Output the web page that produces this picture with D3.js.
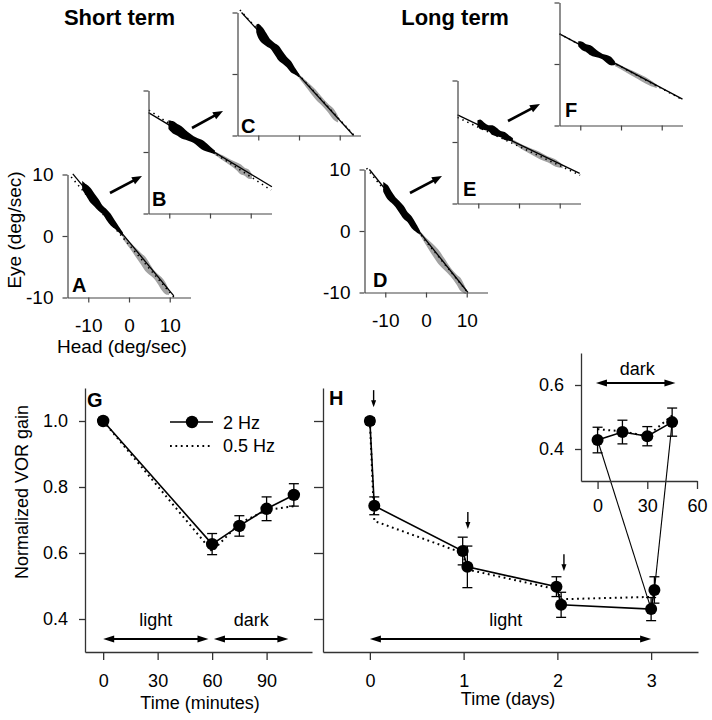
<!DOCTYPE html>
<html><head><meta charset="utf-8">
<script src="https://cdn.jsdelivr.net/npm/d3@7"></script>
<style>
body{margin:0;background:#fff}
text{font-family:"Liberation Sans",Arial,Helvetica,sans-serif;fill:#000}
</style>
</head><body>
<svg id="c" width="712" height="720" xmlns="http://www.w3.org/2000/svg"></svg>
<script>
// ================= DATA =================
// Scatter panels A-F: head velocity (deg/sec) vs eye velocity (deg/sec)
const headTicks = [-10, 0, 10];
const eyeTicks = [-10, 0, 10];
// 2 Hz fit lines [head, eye]
const fitA = [[-13.8, 10.1], [11.0, -9.74]];
const fitB = [[-15.1, 6.4], [15.2, -5.65]];
const fitC = [[-14.1, 10.0], [13.4, -10.0]];
const fitD = [[-13.9, 10.0], [10.3, -10.0]];
const fitE = [[-15.1, 4.4], [14.9, -5.1]];
const fitF = [[-15.1, 4.9], [15.1, -5.7]];
// 0.5 Hz fit lines (dotted)
const dotA = [[-14.2, 9.6], [11.2, -10.1]];
const dotB = [[-15.0, 6.8], [15.0, -6.2]];
const dotC = [[-14.5, 10.4], [13.8, -10.2]];
const dotD = [[-14.6, 10.2], [10.5, -10.2]];
const dotE = [[-15.1, 4.0], [15.0, -5.4]];
const dotF = [[-15.1, 4.9], [15.1, -5.8]];
// raw traces [head, eye, spread(deg/sec)] – black: contralateral half, gray: ipsilateral half
const blackA = [[-11.5,8.26,1.4],[-10.5,7.46,1.9],[-9.5,6.66,2.4],[-8.5,5.86,2.1],[-7.5,5.06,1.9],[-6.5,4.26,1.4],[-5.5,3.46,1.8],[-4.5,2.66,1.9],[-3.5,1.86,1.4],[-2.5,1.06,1.0],[-1.5,0.26,0.7]];
const grayA  = [[-1.5,-0.14,0.7],[0,-1.34,1.0],[1.5,-2.54,1.4],[3,-3.74,1.9],[4,-4.54,2.3],[5,-5.34,1.9],[6,-6.14,1.4],[7,-6.94,1.6],[8,-7.74,2.1],[9,-8.54,1.9],[9.8,-9.18,0.9]];
const blackB = [[-10.2,4.46,1.4],[-9,3.98,2.0],[-8,3.59,1.9],[-7,3.19,2.0],[-6,2.79,1.6],[-5,2.40,1.3],[-4,2.0,1.1],[-3,1.6,1.3],[-2,1.2,1.6],[-1,0.81,1.4],[0.5,0.21,0.8],[1.2,-0.07,0.6]];
const grayB  = [[1.2,-0.2,0.6],[3,-0.9,0.8],[5,-1.7,1.0],[6.5,-2.3,1.3],[7.5,-2.8,1.6],[8.5,-3.2,1.3],[9.5,-3.6,1.5],[10.3,-4.0,0.8]];
const blackC = [[-10.5,7.38,1.2],[-10,7.02,2.3],[-9,6.29,2.6],[-8,5.57,2.1],[-7,4.84,1.5],[-6,4.11,1.9],[-5,3.39,2.4],[-4,2.66,2.0],[-3,1.93,1.7],[-2,1.2,1.8],[-1,0.48,1.1],[0,-0.25,0.6]];
const grayC  = [[0,-0.35,0.6],[2,-1.8,1.1],[4,-3.26,1.6],[5.5,-4.35,1.4],[7,-5.44,1.4],[8.5,-6.53,1.8],[9.6,-7.33,1.1]];
const blackD = [[-10.5,7.18,1.6],[-9.5,6.36,2.3],[-8.5,5.53,1.9],[-7.5,4.7,1.6],[-6.5,3.88,1.9],[-5.5,3.05,2.1],[-4.5,2.23,1.6],[-3.5,1.4,1.9],[-2.5,0.58,1.4],[-1.5,-0.25,0.7]];
const grayD  = [[-1.5,-0.3,0.7],[0,-1.69,1.2],[1.5,-2.93,1.9],[3,-4.17,2.3],[4.5,-5.4,1.9],[6,-6.64,1.4],[7.5,-7.88,1.6],[8.5,-8.7,2.1],[9.8,-9.8,0.9]];
const blackE = [[-10.2,3.09,0.9],[-9.5,2.87,1.6],[-8.5,2.55,1.2],[-7.5,2.24,1.0],[-6.5,1.92,1.6],[-5.5,1.6,1.4],[-4.5,1.29,1.0],[-3.5,0.97,1.3],[-2.5,0.65,0.9],[-1.5,0.34,0.6]];
const grayE  = [[-1.5,0.09,0.6],[1,-0.9,0.8],[3,-1.54,1.0],[5,-2.17,1.2],[7,-2.81,1.0],[9,-3.44,1.2],[10.7,-3.98,0.6]];
const blackF = [[-10.5,3.29,0.8],[-9.5,2.93,1.4],[-8.5,2.58,1.3],[-7.5,2.23,1.6],[-6.5,1.88,1.4],[-5.5,1.53,1.0],[-4.5,1.18,0.9],[-3.5,0.83,1.3],[-2.5,0.48,1.4],[-1.5,0.13,0.6]];
const grayF  = [[-1.5,-0.02,0.6],[1,-0.9,0.7],[3,-1.6,0.9],[5,-2.3,1.0],[7,-3.01,1.0],[8.8,-3.64,0.6]];

// Panel G: short term (minutes)
const gTicksX = [0, 30, 60, 90];
const gainTicks = [0.4, 0.6, 0.8, 1.0];
const gTime   = [0, 60, 75, 90, 105];
const gGain2  = [1.0, 0.627, 0.682, 0.734, 0.776];
const gErr2   = [0.01, 0.032, 0.031, 0.036, 0.034];
const gGain05 = [1.0, 0.605, 0.69, 0.73, 0.742];
const gLight = [0, 58];
const gDark  = [61, 102];

// Panel H: long term (days)
const hTicksX = [0, 1, 2, 3];
const hTime   = [0, 0.047, 0.99, 1.04, 1.99, 2.04, 3.0, 3.035];
const hGain2  = [1.0, 0.743, 0.606, 0.558, 0.498, 0.443, 0.43, 0.488];
const hErr2   = [0.01, 0.027, 0.042, 0.063, 0.03, 0.038, 0.035, 0.04];
const hGain05 = [1.0, 0.697, 0.60, 0.55, 0.49, 0.46, 0.467, 0.49];
const hArrowTime = [0.04, 1.045, 2.07];
const hArrowGain = [1.042, 0.673, 0.545];
const hLight = [0, 3];

// Inset: dark period (minutes)
const iTicksX = [0, 30, 60];
const iTicksY = [0.4, 0.6];
const iTime   = [0, 15, 30, 45];
const iGain2  = [0.428, 0.453, 0.44, 0.484];
const iErr2   = [0.04, 0.037, 0.03, 0.044];
const iGain05 = [0.462, 0.455, 0.44, 0.505];
const iDark   = [-1, 47];
// inset points linked to H points (index in inset, index in H)
const links = [[0, 6], [3, 7]];

// ================= LAYOUT =================
const svg = d3.select("#c");
const AX = "#444";
const W = 123, Hh = 123;
const FF = '"Liberation Sans",Arial,Helvetica,sans-serif';
const plain = d => String(d);

function txt(g, x, y, s, size, opts = {}) {
  const t = g.append("text").attr("x", x).attr("y", y).text(s)
    .style("font-size", size + "px").style("font-family", FF)
    .attr("text-anchor", opts.anchor || "start");
  if (opts.bold) t.style("font-weight", "bold");
  if (opts.rotate) t.attr("transform", `rotate(${opts.rotate},${x},${y})`);
  return t;
}
function arrow(g, x1, y1, x2, y2, sw, hl, hw, both) {
  const a = Math.atan2(y2 - y1, x2 - x1);
  const c = Math.cos(a), s = Math.sin(a);
  const head = (tx, ty, cc, ss) => {
    const bx = tx - hl * cc, by = ty - hl * ss;
    const px = -ss * hw / 2, py = cc * hw / 2;
    g.append("path").attr("d", `M${tx},${ty}L${bx + px},${by + py}L${bx - px},${by - py}Z`).attr("fill", "#000");
  };
  const sx = both ? x1 + hl * 0.7 * c : x1, sy = both ? y1 + hl * 0.7 * s : y1;
  g.append("line").attr("x1", sx).attr("y1", sy)
    .attr("x2", x2 - hl * 0.7 * c).attr("y2", y2 - hl * 0.7 * s)
    .attr("stroke", "#000").attr("stroke-width", sw);
  head(x2, y2, c, s);
  if (both) head(x1, y1, -c, -s);
}

// scatter panels: [name, y-axis x, top y, fit, dot, black, gray, labels, letter dx, letter dy(from bottom)]
const panels = [
  ["A", 67.5, 174.5, fitA, dotA, blackA, grayA, true, 4.5, -5.5],
  ["B", 148.5, 90.5, fitB, dotB, blackB, grayB, false, 3.5, -8],
  ["C", 237.5, 12.5, fitC, dotC, blackC, grayC, false, 3.5, -2.5],
  ["D", 364.5, 169.5, fitD, dotD, blackD, grayD, true, 8.5, -5.5],
  ["E", 457.5, 80.5, fitE, dotE, blackE, grayE, false, 5.5, -8],
  ["F", 559.5, 2.5, fitF, dotF, blackF, grayF, false, 5.5, -8.5]
];

panels.forEach(([name, ox, oy, fit, dot, black, gray, labels, ldx, ldy]) => {
  const g = svg.append("g").attr("transform", `translate(${ox},${oy})`);
  const x = d3.scaleLinear().domain([-15.1, 15.1]).range([0, W]);
  const y = d3.scaleLinear().domain([-10, 10]).range([Hh, 0]);
  const area = d3.area().x(d => x(d[0])).y0(d => y(d[1] + d[2] / 2)).y1(d => y(d[1] - d[2] / 2))
    .curve(d3.curveCatmullRom);
  g.append("path").datum(gray).attr("d", area).attr("fill", "#a2a2a2");
  g.append("path").datum(black).attr("d", area).attr("fill", "#000");
  const ln = d3.line().x(d => x(d[0])).y(d => y(d[1]));
  g.append("path").datum(dot).attr("d", ln).attr("fill", "none").attr("stroke", "#000")
    .attr("stroke-width", 1.6).attr("stroke-dasharray", "1.4,4");
  g.append("path").datum(fit).attr("d", ln).attr("fill", "none").attr("stroke", "#000").attr("stroke-width", 1.3);

  const ya = d3.axisLeft(y).tickValues(eyeTicks).tickSize(5).tickSizeOuter(0).tickPadding(9).tickFormat(plain);
  const xa = d3.axisBottom(x).tickValues(headTicks).tickSize(5).tickSizeOuter(0).tickPadding(16).tickFormat(plain);
  if (!labels) { ya.tickFormat(""); xa.tickFormat(""); }
  const gy = g.append("g").call(ya);
  const gx = g.append("g").attr("transform", `translate(0,${Hh})`).call(xa);
  [gx, gy].forEach(a => {
    a.selectAll("path,line").attr("stroke", AX).attr("stroke-width", 1.2);
    a.selectAll("text").style("font-size", "19px").style("font-family", FF).attr("fill", "#000");
  });
  txt(g, ldx, Hh + ldy, name, 20, { bold: true });
});

// between-panel arrows (layout)
arrow(svg, 110, 193, 142, 176, 2.6, 10, 8);
arrow(svg, 192, 128, 223, 111, 2.6, 10, 8);
arrow(svg, 410, 193, 442, 176, 2.6, 10, 8);
arrow(svg, 508, 121, 540, 104, 2.6, 10, 8);

// titles & scatter axis labels
txt(svg, 119.5, 25, "Short term", 22, { bold: true, anchor: "middle" });
txt(svg, 455, 25, "Long term", 22, { bold: true, anchor: "middle" });
txt(svg, 20.5, 230, "Eye (deg/sec)", 19, { anchor: "middle", rotate: -90 });
txt(svg, 122, 353, "Head (deg/sec)", 19, { anchor: "middle" });

// ============ scales for G / H / inset ============
const yG = d3.scaleLinear().domain([0.3, 1.1]).range([652, 388]);
const xG = d3.scaleLinear().domain([-10, 115]).range([85, 312]);
const xH = d3.scaleLinear().domain([-0.5, 3.5]).range([323, 698]);
const xI = d3.scaleLinear().domain([-10, 60]).range([581, 697]);
const yI = d3.scaleLinear().domain([0.3, 0.7]).range([481, 353]);

function styleAxis(a, size) {
  a.selectAll("path,line").attr("stroke", "#333").attr("stroke-width", 1.3);
  a.selectAll("text").style("font-size", size + "px").style("font-family", FF).attr("fill", "#000");
}
function series(g, x, y, t, v2, e2, v05, r) {
  const ln = d3.line().x((d, i) => x(t[i])).y(d => y(d));
  g.append("path").datum(v05).attr("d", ln).attr("fill", "none").attr("stroke", "#000")
    .attr("stroke-width", 2).attr("stroke-dasharray", "1.8,3.6");
  g.append("path").datum(v2).attr("d", ln).attr("fill", "none").attr("stroke", "#000").attr("stroke-width", 1.6);
  const eb = g.append("g").attr("stroke", "#000").attr("stroke-width", 1.3);
  v2.forEach((v, i) => {
    const cx = x(t[i]);
    eb.append("line").attr("x1", cx).attr("x2", cx).attr("y1", y(v + e2[i])).attr("y2", y(v - e2[i]));
    [v + e2[i], v - e2[i]].forEach(w => eb.append("line").attr("x1", cx - 5).attr("x2", cx + 5).attr("y1", y(w)).attr("y2", y(w)));
  });
  g.selectAll(null).data(v2).enter().append("circle")
    .attr("cx", (d, i) => x(t[i])).attr("cy", d => y(d)).attr("r", r).attr("fill", "#000");
}

// ============ Panel G ============
const gG = svg.append("g");
styleAxis(gG.append("g").attr("transform", "translate(85,0)")
  .call(d3.axisLeft(yG).tickValues(gainTicks).tickFormat(d3.format(".1f")).tickSize(6).tickSizeOuter(0).tickPadding(11)), 18);
styleAxis(gG.append("g").attr("transform", "translate(0,652)")
  .call(d3.axisBottom(xG).tickValues(gTicksX).tickFormat(plain).tickSize(8).tickSizeOuter(0).tickPadding(14)), 18);
series(gG, xG, yG, gTime, gGain2, gErr2, gGain05, 6.2);
arrow(gG, xG(gLight[0]), 639, xG(gLight[1]), 639, 2, 11, 7, true);
arrow(gG, xG(gDark[0]), 639, xG(gDark[1]), 639, 2, 11, 7, true);
txt(gG, xG((gLight[0] + gLight[1]) / 2), 626, "light", 18, { anchor: "middle" });
txt(gG, xG((gDark[0] + gDark[1]) / 2), 626, "dark", 18, { anchor: "middle" });
txt(gG, 87, 407, "G", 20, { bold: true });
// legend
gG.append("line").attr("x1", 170).attr("x2", 213).attr("y1", 422).attr("y2", 422).attr("stroke", "#000").attr("stroke-width", 1.6);
gG.append("circle").attr("cx", 192).attr("cy", 422).attr("r", 6.2).attr("fill", "#000");
gG.append("line").attr("x1", 170).attr("x2", 213).attr("y1", 446).attr("y2", 446).attr("stroke", "#000")
  .attr("stroke-width", 2).attr("stroke-dasharray", "1.8,3.6");
txt(gG, 223, 428.5, "2 Hz", 18);
txt(gG, 223, 452, "0.5 Hz", 18);
txt(svg, 28, 492, "Normalized VOR gain", 18, { anchor: "middle", rotate: -90 });
txt(svg, 200, 709, "Time (minutes)", 18, { anchor: "middle" });

// ============ Panel H ============
const gH = svg.append("g");
styleAxis(gH.append("g").attr("transform", "translate(323,0)")
  .call(d3.axisLeft(yG).tickValues(gainTicks).tickFormat("").tickSize(9).tickSizeOuter(0)), 18);
styleAxis(gH.append("g").attr("transform", "translate(0,652)")
  .call(d3.axisBottom(xH).tickValues(hTicksX).tickFormat(plain).tickSize(8).tickSizeOuter(0).tickPadding(14)), 18);
// links from inset to H points (drawn under)
links.forEach(([ii, hi]) => {
  gH.append("line").attr("x1", xI(iTime[ii])).attr("y1", yI(iGain2[ii]))
    .attr("x2", xH(hTime[hi])).attr("y2", yG(hGain2[hi])).attr("stroke", "#000").attr("stroke-width", 1.1);
});
series(gH, xH, yG, hTime, hGain2, hErr2, hGain05, 6);
hArrowTime.forEach((t, i) => arrow(gH, xH(t), yG(hArrowGain[i]) - 17, xH(t), yG(hArrowGain[i]), 1.4, 7, 5));
arrow(gH, xH(hLight[0]), 639, xH(hLight[1]), 639, 2, 11, 7, true);
txt(gH, xH(1.45), 626, "light", 18, { anchor: "middle" });
txt(gH, 329, 405, "H", 20, { bold: true });
txt(svg, 508, 705, "Time (days)", 18, { anchor: "middle" });

// ============ Inset ============
const gI = svg.append("g");
styleAxis(gI.append("g").attr("transform", "translate(581,0)")
  .call(d3.axisLeft(yI).tickValues(iTicksY).tickFormat(d3.format(".1f")).tickSize(6).tickSizeOuter(0).tickPadding(11)), 18);
styleAxis(gI.append("g").attr("transform", "translate(0,481)")
  .call(d3.axisBottom(xI).tickValues(iTicksX).tickFormat(plain).tickSize(8).tickSizeOuter(0).tickPadding(10)), 18);
series(gI, xI, yI, iTime, iGain2, iErr2, iGain05, 6);
arrow(gI, xI(iDark[0]), 383, xI(iDark[1]), 383, 2, 11, 7, true);
txt(gI, xI(24), 375, "dark", 18, { anchor: "middle" });
</script>
</body></html>
